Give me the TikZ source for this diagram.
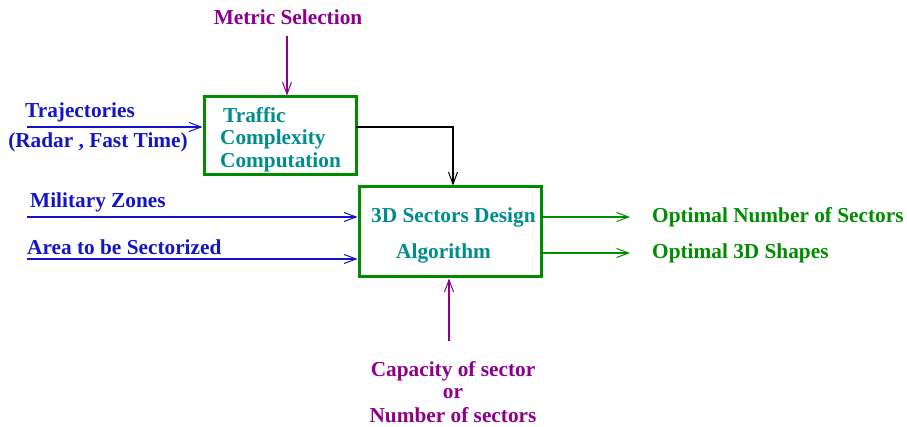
\documentclass[tikz,border=0pt]{standalone}
\usepackage{fontspec}
\setmainfont{Liberation Serif}
\usetikzlibrary{arrows.meta}
\definecolor{cpurple}{RGB}{140,0,140}
\definecolor{cblue}{RGB}{20,20,200}
\definecolor{cgreen}{RGB}{0,140,0}
\definecolor{cteal}{RGB}{0,140,140}
\begin{document}
\begin{tikzpicture}[x=1pt,y=-1pt,
  box/.style={draw=cgreen,line width=3pt},
  lbl/.style={font=\fontsize{21.3}{24}\selectfont\bfseries,inner sep=0pt,anchor=west},
  arr/.style={line width=1.3pt,-{Straight Barb[length=12pt,width=9pt,line width=1pt]}},
]
\useasboundingbox (0,0) rectangle (907,427);
% boxes
\node[box,minimum width=152pt,minimum height=78pt,inner sep=0pt] (tcc) at (280,136) {};
\node[box,minimum width=182pt,minimum height=90pt,inner sep=0pt] (sdb) at (450,232) {};
% box texts
\node[lbl,text=cteal] (t1) at (223,115) {Traffic};
\node[lbl,text=cteal] (t2) at (220,139) {Complexity};
\node[lbl,text=cteal] (t3) at (220,162) {Computation};
\node[lbl,text=cteal] (s1) at (371,217) {3D Sectors Design};
\node[lbl,text=cteal] (s2) at (396,253) {Algorithm};
% metric selection
\node[lbl,anchor=center,text=cpurple] (ms) at (288,17) {Metric Selection};
\coordinate (msa) at (287,36);
\draw[arr,cpurple] (msa) -- (tcc.north -| msa);
% trajectories
\node[lbl,anchor=center,text=cblue] (tr1) at (80,112) {Trajectories};
\node[lbl,anchor=center,text=cblue] (tr2) at (98,142) {(Radar , Fast Time)};
\coordinate (tra) at (27,127);
\draw[arr,cblue] (tra) -- (tcc.west |- tra);
% black connector
\coordinate (b1) at (356,127);
\coordinate (b2) at (453,127);
\draw[arr,black] (b1) -- (b2) -- (sdb.north -| b2);
% military zones
\node[lbl,text=cblue] (mz) at (30,202) {Military Zones};
\coordinate (mza) at (27,217);
\draw[arr,cblue] (mza) -- (sdb.west |- mza);
\node[lbl,text=cblue] (ar) at (27,247) {Area to be Sectorized};
\coordinate (ara) at (27,259);
\draw[arr,cblue] (ara) -- (sdb.west |- ara);
% outputs
\coordinate (o1s) at (542,217);
\coordinate (o1e) at (630,217);
\coordinate (o2s) at (543,253);
\coordinate (o2e) at (630,253);
\draw[arr,cgreen] (o1s) -- (o1e);
\draw[arr,cgreen] (o2s) -- (o2e);
\node[lbl,text=cgreen] (on1) at (652,217) {Optimal Number of Sectors};
\node[lbl,text=cgreen] (on2) at (652,253) {Optimal 3D Shapes};
% capacity
\coordinate (ca) at (449,341);
\draw[arr,cpurple] (ca) -- (sdb.south -| ca);
\node[lbl,anchor=center,text=cpurple] (c1) at (453,371) {Capacity of sector};
\node[lbl,anchor=center,text=cpurple] (c2) at (453,394) {or};
\node[lbl,anchor=center,text=cpurple] (c3) at (453,415) {Number of sectors};
\end{tikzpicture}
\end{document}
